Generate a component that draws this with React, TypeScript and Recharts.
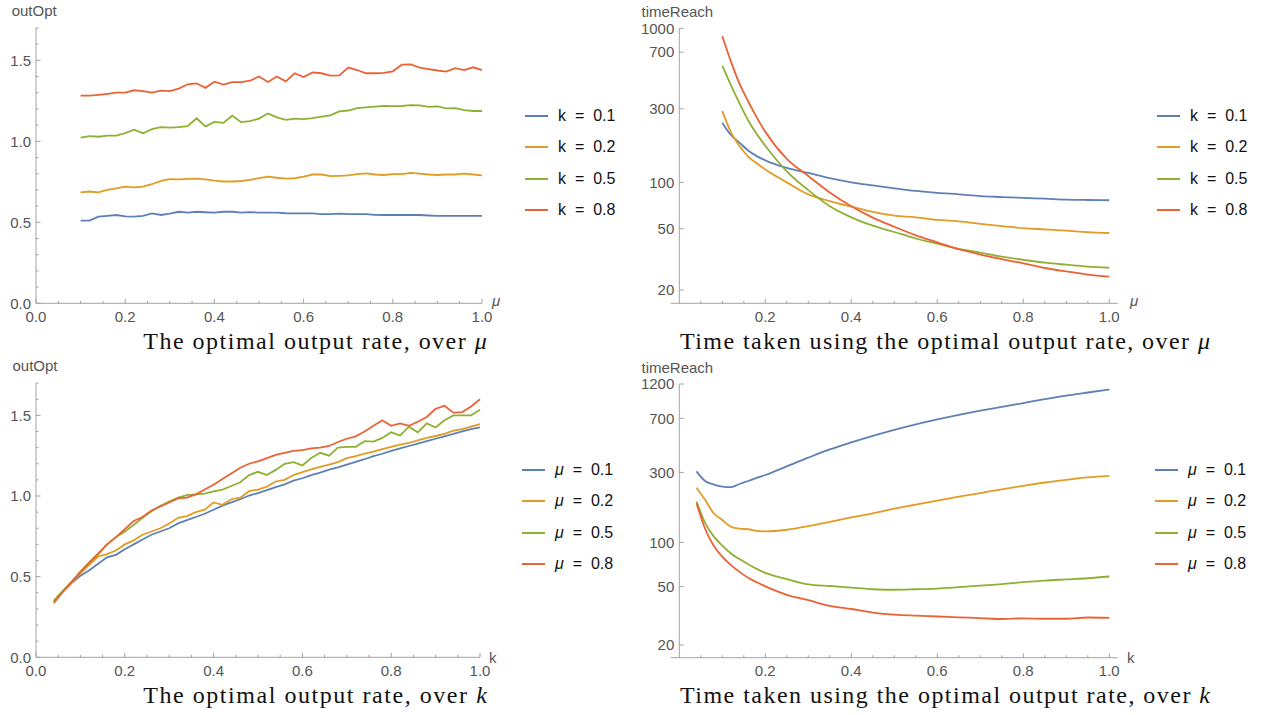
import React from 'react';
import { LineChart, Line, XAxis, YAxis, Legend, ReferenceLine } from 'recharts';

// ---------- style constants ----------
const SERIES_COLORS = ['#5e81b5', '#e19c24', '#8fb032', '#eb6235'];
const AXIS_COLOR = '#a3a3a3';
const TICK_COLOR = '#555555';
const SANS = "'Liberation Sans', Arial, Helvetica, sans-serif";
const SERIF = "'Liberation Serif', 'Times New Roman', serif";

// ---------- labels ----------
const kLegend = ['k  =  0.1', 'k  =  0.2', 'k  =  0.5', 'k  =  0.8'];
const muLegend = ['μ  =  0.1', 'μ  =  0.2', 'μ  =  0.5', 'μ  =  0.8'];

// ---------- ticks ----------
const xTicksFull = [0, 0.05, 0.1, 0.15, 0.2, 0.25, 0.3, 0.35, 0.4, 0.45, 0.5, 0.55, 0.6, 0.65, 0.7, 0.75, 0.8, 0.85, 0.9, 0.95, 1];
const xTicksNoZero = [0.05, 0.1, 0.15, 0.2, 0.25, 0.3, 0.35, 0.4, 0.45, 0.5, 0.55, 0.6, 0.65, 0.7, 0.75, 0.8, 0.85, 0.9, 0.95, 1];
const yTicksOutOpt = [0, 0.1, 0.2, 0.3, 0.4, 0.5, 0.6, 0.7, 0.8, 0.9, 1, 1.1, 1.2, 1.3, 1.4, 1.5, 1.6, 1.7];
const yTicksTimeMu = [20, 50, 100, 300, 700, 1000];
const yTicksTimeK = [20, 50, 100, 300, 700, 1200];

// ---------- panel 1: outOpt over mu ----------
const muGridOut = [0.1, 0.12, 0.14, 0.16, 0.18, 0.2, 0.22, 0.24, 0.26, 0.28, 0.3, 0.32, 0.34, 0.36, 0.38, 0.4, 0.42, 0.44, 0.46, 0.48, 0.5, 0.52, 0.54, 0.56, 0.58, 0.6, 0.62, 0.64, 0.66, 0.68, 0.7, 0.72, 0.74, 0.76, 0.78, 0.8, 0.82, 0.84, 0.86, 0.88, 0.9, 0.92, 0.94, 0.96, 0.98, 1];
const outOptMuK01 = [0.51, 0.51, 0.535, 0.54, 0.545, 0.537, 0.535, 0.54, 0.555, 0.545, 0.553, 0.565, 0.56, 0.565, 0.562, 0.56, 0.565, 0.565, 0.56, 0.563, 0.56, 0.56, 0.56, 0.556, 0.555, 0.555, 0.555, 0.551, 0.55, 0.553, 0.55, 0.55, 0.55, 0.546, 0.545, 0.545, 0.545, 0.545, 0.545, 0.542, 0.54, 0.54, 0.54, 0.54, 0.54, 0.54];
const outOptMuK02 = [0.685, 0.69, 0.685, 0.7, 0.71, 0.72, 0.715, 0.72, 0.735, 0.755, 0.767, 0.765, 0.768, 0.77, 0.765, 0.757, 0.752, 0.752, 0.755, 0.762, 0.772, 0.782, 0.775, 0.77, 0.772, 0.782, 0.795, 0.795, 0.785, 0.787, 0.79, 0.797, 0.802, 0.795, 0.792, 0.797, 0.797, 0.805, 0.8, 0.795, 0.792, 0.795, 0.795, 0.8, 0.795, 0.79];
const outOptMuK05 = [1.022, 1.032, 1.028, 1.035, 1.035, 1.05, 1.072, 1.05, 1.075, 1.088, 1.085, 1.087, 1.094, 1.142, 1.092, 1.12, 1.114, 1.158, 1.118, 1.125, 1.14, 1.172, 1.148, 1.132, 1.14, 1.137, 1.143, 1.152, 1.16, 1.185, 1.19, 1.205, 1.21, 1.214, 1.218, 1.217, 1.218, 1.223, 1.222, 1.212, 1.215, 1.203, 1.205, 1.192, 1.187, 1.187];
const outOptMuK08 = [1.282, 1.282, 1.287, 1.293, 1.3, 1.3, 1.315, 1.31, 1.3, 1.313, 1.31, 1.325, 1.352, 1.358, 1.33, 1.368, 1.35, 1.365, 1.365, 1.374, 1.4, 1.366, 1.4, 1.37, 1.42, 1.397, 1.425, 1.42, 1.405, 1.407, 1.455, 1.44, 1.42, 1.42, 1.422, 1.432, 1.473, 1.475, 1.455, 1.446, 1.437, 1.43, 1.452, 1.44, 1.457, 1.44];

// ---------- panel 2: timeReach over mu ----------
const muGridTime = [0.1, 0.12, 0.14, 0.16, 0.18, 0.2, 0.25, 0.3, 0.35, 0.4, 0.45, 0.5, 0.55, 0.6, 0.65, 0.7, 0.75, 0.8, 0.85, 0.9, 0.95, 1];
const timeMuK01 = [244, 203, 181, 161, 148, 139, 124, 115, 106.5, 100, 95.5, 91.5, 88, 85.4, 83.6, 81.5, 80.3, 79.2, 78.3, 77.3, 76.8, 76.5];
const timeMuK02 = [290, 212, 172, 147, 133, 121, 100, 83.5, 75.5, 69.5, 64.3, 60.8, 59.3, 57, 55.8, 53.8, 52, 50.4, 49.5, 48.6, 47.5, 46.9];
const timeMuK05 = [571, 428, 326, 253, 206, 173, 118, 89, 70, 59.3, 52.3, 47.6, 43.2, 40, 37, 35, 32.9, 31.4, 30.1, 29.2, 28.4, 27.9];
const timeMuK08 = [890, 610, 437, 336, 264, 213, 142, 110, 86, 70, 59, 51.5, 45.3, 40.8, 36.8, 34, 31.7, 29.8, 27.8, 26.4, 25.2, 24.4];

// ---------- panel 3: outOpt over k ----------
const kGridOut = [0.04, 0.06, 0.08, 0.1, 0.12, 0.14, 0.16, 0.18, 0.2, 0.22, 0.24, 0.26, 0.28, 0.3, 0.32, 0.34, 0.36, 0.38, 0.4, 0.42, 0.44, 0.46, 0.48, 0.5, 0.52, 0.54, 0.56, 0.58, 0.6, 0.62, 0.64, 0.66, 0.68, 0.7, 0.72, 0.74, 0.76, 0.78, 0.8, 0.82, 0.84, 0.86, 0.88, 0.9, 0.92, 0.94, 0.96, 0.98, 1];
const outOptKMu01 = [0.345, 0.405, 0.46, 0.505, 0.54, 0.58, 0.62, 0.635, 0.67, 0.7, 0.73, 0.76, 0.78, 0.8, 0.83, 0.85, 0.87, 0.89, 0.915, 0.94, 0.96, 0.98, 1.003, 1.018, 1.037, 1.055, 1.072, 1.095, 1.11, 1.13, 1.145, 1.163, 1.178, 1.195, 1.212, 1.228, 1.247, 1.262, 1.28, 1.295, 1.31, 1.325, 1.34, 1.355, 1.37, 1.385, 1.4, 1.415, 1.425];
const outOptKMu02 = [0.35, 0.41, 0.465, 0.52, 0.575, 0.625, 0.64, 0.662, 0.7, 0.725, 0.76, 0.78, 0.8, 0.83, 0.865, 0.875, 0.9, 0.915, 0.96, 0.945, 0.98, 0.99, 1.03, 1.04, 1.058, 1.09, 1.1, 1.13, 1.148, 1.165, 1.18, 1.195, 1.21, 1.235, 1.248, 1.262, 1.275, 1.29, 1.305, 1.318, 1.33, 1.345, 1.36, 1.372, 1.385, 1.405, 1.415, 1.43, 1.445];
const outOptKMu05 = [0.35, 0.41, 0.47, 0.53, 0.59, 0.645, 0.7, 0.745, 0.78, 0.82, 0.865, 0.905, 0.94, 0.965, 0.99, 1.005, 1.01, 1.015, 1.028, 1.04, 1.062, 1.085, 1.13, 1.15, 1.13, 1.162, 1.2, 1.21, 1.19, 1.235, 1.268, 1.25, 1.3, 1.305, 1.305, 1.34, 1.337, 1.36, 1.395, 1.375, 1.43, 1.395, 1.45, 1.425, 1.47, 1.5, 1.5, 1.5, 1.535];
const outOptKMu08 = [0.335, 0.405, 0.465, 0.53, 0.585, 0.64, 0.7, 0.745, 0.795, 0.845, 0.87, 0.91, 0.935, 0.96, 0.985, 0.99, 1.01, 1.04, 1.07, 1.105, 1.14, 1.175, 1.2, 1.215, 1.235, 1.255, 1.268, 1.28, 1.285, 1.295, 1.3, 1.31, 1.335, 1.355, 1.37, 1.4, 1.435, 1.47, 1.435, 1.45, 1.435, 1.46, 1.49, 1.54, 1.56, 1.517, 1.52, 1.555, 1.6];

// ---------- panel 4: timeReach over k ----------
const kGridTime = [0.04, 0.06, 0.08, 0.1, 0.12, 0.14, 0.16, 0.18, 0.2, 0.25, 0.3, 0.35, 0.4, 0.45, 0.5, 0.55, 0.6, 0.65, 0.7, 0.75, 0.8, 0.85, 0.9, 0.95, 1];
const timeKMu01 = [305, 262, 248, 240, 238, 250, 262, 275, 288, 330, 378, 430, 480, 532, 585, 638, 689, 740, 790, 838, 890, 945, 1000, 1050, 1100];
const timeKMu02 = [236, 195, 158, 142, 128, 124, 123, 120, 119, 122, 129, 138, 148, 158, 170, 181, 193, 205, 217, 230, 243, 256, 267, 277, 284];
const timeKMu05 = [190, 136, 110, 95, 84, 77, 71, 66, 62, 56.3, 51.8, 50.5, 49.2, 48, 47.6, 48, 48.5, 49.6, 50.8, 52, 53.6, 55, 56, 57, 58.6];
const timeKMu08 = [185, 124, 95, 80, 70, 63, 57.5, 53.5, 50.2, 44, 40.4, 37, 35.2, 33.3, 32.2, 31.7, 31.3, 30.9, 30.5, 30.1, 30.4, 30.2, 30.2, 30.8, 30.6];

const buildRows = (xs: number[], series: number[][]) =>
  xs.map((x, i) => ({ x, s1: series[0][i], s2: series[1][i], s3: series[2][i], s4: series[3][i] }));

const rowsOutMu = buildRows(muGridOut, [outOptMuK01, outOptMuK02, outOptMuK05, outOptMuK08]);
const rowsTimeMu = buildRows(muGridTime, [timeMuK01, timeMuK02, timeMuK05, timeMuK08]);
const rowsOutK = buildRows(kGridOut, [outOptKMu01, outOptKMu02, outOptKMu05, outOptKMu08]);
const rowsTimeK = buildRows(kGridTime, [timeKMu01, timeKMu02, timeKMu05, timeKMu08]);

// ---------- tick renderers ----------
const isMult = (v: number, step: number) => Math.abs(v / step - Math.round(v / step)) < 1e-6;

function XTick(props: any) {
  const { x, y, payload, showZero } = props;
  const v = Number(payload.value);
  const major = isMult(v, 0.2);
  return (
    <g>
      <line x1={x} x2={x} y1={y} y2={y - (major ? 4.5 : 2.5)} stroke={AXIS_COLOR} strokeWidth={1} />
      {major && (showZero || v > 1e-9) ? (
        <text x={x} y={y + 18.5} textAnchor="middle" fontFamily={SANS} fontSize={15} fill={TICK_COLOR}>
          {v.toFixed(1)}
        </text>
      ) : null}
    </g>
  );
}

function YTickLinear(props: any) {
  const { x, y, payload } = props;
  const v = Number(payload.value);
  const major = isMult(v, 0.5);
  return (
    <g>
      <line x1={x} x2={x + (major ? 4.5 : 2.5)} y1={y} y2={y} stroke={AXIS_COLOR} strokeWidth={1} />
      {major ? (
        <text x={x - 5} y={y + 5.3} textAnchor="end" fontFamily={SANS} fontSize={15} fill={TICK_COLOR}>
          {v.toFixed(1)}
        </text>
      ) : null}
    </g>
  );
}

function YTickLog(props: any) {
  const { x, y, payload } = props;
  const v = Number(payload.value);
  return (
    <g>
      <line x1={x} x2={x + 4.5} y1={y} y2={y} stroke={AXIS_COLOR} strokeWidth={1} />
      <text x={x - 5} y={y + 5.3} textAnchor="end" fontFamily={SANS} fontSize={15} fill={TICK_COLOR}>
        {String(v)}
      </text>
    </g>
  );
}

// ---------- legend ----------
function LegendList(props: any) {
  const { payload } = props;
  return (
    <div style={{ fontFamily: SANS, fontSize: 16, color: '#111', lineHeight: 1 }}>
      {(payload || []).map((entry: any, i: number) => {
        const text = String(entry.value);
        const sym = text.charAt(0);
        return (
          <div key={i} style={{ height: 31.4, display: 'flex', alignItems: 'center', whiteSpace: 'pre' }}>
            <span style={{ display: 'inline-block', width: 23, height: 2, background: entry.color, marginRight: 10 }} />
            <span style={{ fontStyle: sym === 'μ' ? 'italic' : 'normal' }}>{sym}</span>
            <span>{text.slice(1)}</span>
          </div>
        );
      })}
    </div>
  );
}

function seriesLines(names: string[], curve: 'linear' | 'monotone') {
  return ['s1', 's2', 's3', 's4'].map((key, i) => (
    <Line
      key={key}
      dataKey={key}
      name={names[i]}
      type={curve}
      stroke={SERIES_COLORS[i]}
      strokeWidth={1.8}
      dot={false}
      activeDot={false}
      isAnimationActive={false}
    />
  ));
}

const LOG_MIN = 16.4;

export default function App() {
  const txt = { fontFamily: SANS, fontSize: 15, fill: TICK_COLOR } as const;
  return (
    <div style={{ position: 'absolute', left: 0, top: 0, width: 1270, height: 715, background: '#ffffff' }}>
      {/* Panel 1 */}
      <div style={{ position: 'absolute', left: 0, top: 0 }}>
        <LineChart width={635} height={355} data={rowsOutMu} margin={{ top: 27.9, right: 153, bottom: 21.7, left: 6 }}>
          <XAxis dataKey="x" type="number" domain={[0, 1]} ticks={xTicksFull} interval={0} height={30}
            tickSize={0} tickMargin={0} tickLine={false} axisLine={{ stroke: AXIS_COLOR }}
            tick={(p: any) => <XTick {...p} showZero />} />
          <YAxis type="number" domain={[0, 1.7]} ticks={yTicksOutOpt} interval={0} width={30}
            tickSize={0} tickMargin={0} tickLine={false} axisLine={{ stroke: AXIS_COLOR }}
            tick={(p: any) => <YTickLinear {...p} />} allowDataOverflow />
          <Legend layout="vertical" align="center" verticalAlign="middle" content={<LegendList />}
            wrapperStyle={{ left: 525, top: 100.4, width: 110 }} />
          {seriesLines(kLegend, 'linear')}
        </LineChart>
      </div>

      {/* Panel 2 */}
      <div style={{ position: 'absolute', left: 635, top: 0 }}>
        <LineChart width={635} height={355} data={rowsTimeMu} margin={{ top: 28.3, right: 160.7, bottom: 21.7, left: 14.3 }}>
          <XAxis dataKey="x" type="number" domain={[0, 1]} ticks={xTicksNoZero} interval={0} height={30}
            tickSize={0} tickMargin={0} tickLine={false} axisLine={false}
            tick={(p: any) => <XTick {...p} />} />
          <YAxis type="number" scale="log" domain={[LOG_MIN, 1000]} ticks={yTicksTimeMu} interval={0} width={30}
            tickSize={0} tickMargin={0} tickLine={false} axisLine={{ stroke: AXIS_COLOR }}
            tick={(p: any) => <YTickLog {...p} />} allowDataOverflow />
          <ReferenceLine segment={[{ x: -0.02, y: LOG_MIN }, { x: 1.02, y: LOG_MIN }]} stroke={AXIS_COLOR} ifOverflow="visible" />
          <Legend layout="vertical" align="center" verticalAlign="middle" content={<LegendList />}
            wrapperStyle={{ left: 522, top: 100.4, width: 110 }} />
          {seriesLines(kLegend, 'monotone')}
        </LineChart>
      </div>

      {/* Panel 3 */}
      <div style={{ position: 'absolute', left: 0, top: 355 }}>
        <LineChart width={635} height={360} data={rowsOutK} margin={{ top: 28.1, right: 155, bottom: 27.7, left: 6 }}>
          <XAxis dataKey="x" type="number" domain={[0, 1]} ticks={xTicksFull} interval={0} height={30}
            tickSize={0} tickMargin={0} tickLine={false} axisLine={{ stroke: AXIS_COLOR }}
            tick={(p: any) => <XTick {...p} showZero />} />
          <YAxis type="number" domain={[0, 1.7]} ticks={yTicksOutOpt} interval={0} width={30}
            tickSize={0} tickMargin={0} tickLine={false} axisLine={{ stroke: AXIS_COLOR }}
            tick={(p: any) => <YTickLinear {...p} />} allowDataOverflow />
          <Legend layout="vertical" align="center" verticalAlign="middle" content={<LegendList />}
            wrapperStyle={{ left: 522, top: 99.4, width: 110 }} />
          {seriesLines(muLegend, 'linear')}
        </LineChart>
      </div>

      {/* Panel 4 */}
      <div style={{ position: 'absolute', left: 635, top: 355 }}>
        <LineChart width={635} height={360} data={rowsTimeK} margin={{ top: 29, right: 160.7, bottom: 27.3, left: 14.3 }}>
          <XAxis dataKey="x" type="number" domain={[0, 1]} ticks={xTicksNoZero} interval={0} height={30}
            tickSize={0} tickMargin={0} tickLine={false} axisLine={false}
            tick={(p: any) => <XTick {...p} />} />
          <YAxis type="number" scale="log" domain={[LOG_MIN, 1200]} ticks={yTicksTimeK} interval={0} width={30}
            tickSize={0} tickMargin={0} tickLine={false} axisLine={{ stroke: AXIS_COLOR }}
            tick={(p: any) => <YTickLog {...p} />} allowDataOverflow />
          <ReferenceLine segment={[{ x: -0.02, y: LOG_MIN }, { x: 1.02, y: LOG_MIN }]} stroke={AXIS_COLOR} ifOverflow="visible" />
          <Legend layout="vertical" align="center" verticalAlign="middle" content={<LegendList />}
            wrapperStyle={{ left: 520, top: 99.4, width: 110 }} />
          {seriesLines(muLegend, 'monotone')}
        </LineChart>
      </div>

      {/* Axis labels and plot titles */}
      <svg width={1270} height={715} style={{ position: 'absolute', left: 0, top: 0, pointerEvents: 'none' }}>
        <text x={11.7} y={15.5} {...txt}>outOpt</text>
        <text x={12.5} y={370.5} {...txt}>outOpt</text>
        <text x={641.5} y={17.3} {...txt}>timeReach</text>
        <text x={641.5} y={373} {...txt}>timeReach</text>
        <text x={492} y={306} {...txt} fontStyle="italic">μ</text>
        <text x={1130} y={306} {...txt} fontStyle="italic">μ</text>
        <text x={489} y={663} {...txt}>k</text>
        <text x={1127} y={663} {...txt}>k</text>

        <text x={143.3} y={349} fontFamily={SERIF} fontSize={24} fill="#111" textLength={343.5} lengthAdjust="spacing">
          The optimal output rate, over <tspan fontStyle="italic">μ</tspan>
        </text>
        <text x={680} y={349} fontFamily={SERIF} fontSize={24} fill="#111" textLength={530} lengthAdjust="spacing">
          Time taken using the optimal output rate, over <tspan fontStyle="italic">μ</tspan>
        </text>
        <text x={143.3} y={703} fontFamily={SERIF} fontSize={24} fill="#111" textLength={343.5} lengthAdjust="spacing">
          The optimal output rate, over <tspan fontStyle="italic">k</tspan>
        </text>
        <text x={680} y={703} fontFamily={SERIF} fontSize={24} fill="#111" textLength={530} lengthAdjust="spacing">
          Time taken using the optimal output rate, over <tspan fontStyle="italic">k</tspan>
        </text>
      </svg>
    </div>
  );
}
